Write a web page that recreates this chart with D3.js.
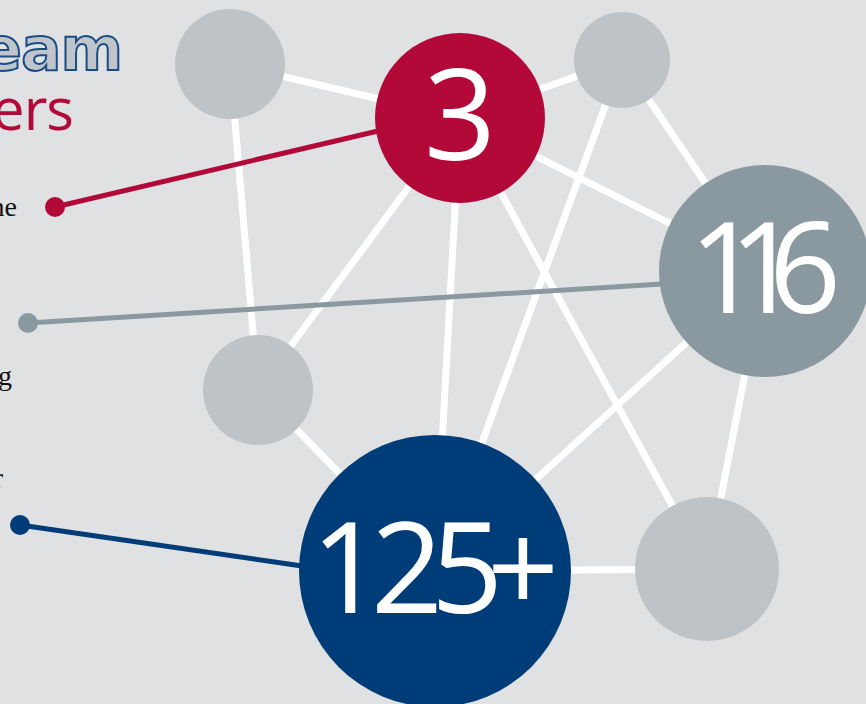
<!DOCTYPE html>
<html>
<head>
<meta charset="utf-8">
<script src="https://cdn.jsdelivr.net/npm/d3@7"></script>
<style>
  html, body { margin: 0; padding: 0; background: #e0e1e3; overflow: hidden; }
  svg { display: block; }
</style>
</head>
<body>
<svg id="chart" width="866" height="704"></svg>
<script>
// node data (layout coordinates of the original graphic)
const nodeIds = ['a', 'b', 'c', 'd', 'e', 'f', 'g'];
const nodeLabels = ['', '3', '', '116', '', '125+', ''];
const nodeX = [230, 460, 622, 765, 258, 435, 707];
const nodeY = [64, 118, 60, 271, 390, 571, 569];
const nodeR = [55, 85, 48, 106, 55, 136, 72];
const nodeKind = ['plain', 'red', 'plain', 'slate', 'plain', 'navy', 'plain'];

// network links
const linkSource = ['a', 'a', 'b', 'b', 'b', 'b', 'b', 'c', 'c', 'e', 'd', 'd', 'f'];
const linkTarget = ['b', 'e', 'c', 'e', 'f', 'd', 'g', 'f', 'd', 'f', 'f', 'g', 'g'];

// callouts: dot on the left joined to a highlighted node
const calloutNode = ['b', 'd', 'f'];
const calloutX = [55, 28, 20];
const calloutY = [207, 323, 525];
const calloutEndX = [378, 662, 302];
const calloutEndY = [131, 284, 566];

// clipped text fragments at the left edge
const titleWords = ['Team', 'Members'];
const bodyLines = ['the', 'along', 'other'];

const colors = {
    plain: '#bec3c7',
    red: '#b30939',
    slate: '#8a999f',
    navy: '#003c77'
};
// tight setting of the big numbers (width of the digit run), and where the clipped body lines sit
const digitWidth = { '3': 55, '116': 152, '125+': 192 };
const plusGap = -4;
const bodyEndX = [17, 12, 3];
const bodyBaseline = [216, 385, 487];

const svg = d3.select('#chart');
const width = +svg.attr('width');
const height = +svg.attr('height');

const x = d3.scaleLinear().domain([0, 866]).range([0, width]);
const y = d3.scaleLinear().domain([0, 704]).range([0, height]);
const r = d3.scaleLinear().domain([0, 100]).range([0, 100]);

const nodes = nodeIds.map((id, i) => ({
    id: id,
    label: nodeLabels[i],
    x: nodeX[i],
    y: nodeY[i],
    r: nodeR[i],
    kind: nodeKind[i]
}));
const byId = new Map(nodes.map(n => [n.id, n]));

const links = linkSource.map((s, i) => ({ source: byId.get(s), target: byId.get(linkTarget[i]) }));

// background
svg.append('rect')
    .attr('width', width)
    .attr('height', height)
    .attr('fill', '#e0e1e3');

// title fragments (clipped by the left edge)
svg.append('text')
    .attr('x', x(122))
    .attr('y', y(70))
    .attr('text-anchor', 'end')
    .attr('font-family', 'DejaVu Sans')
    .attr('font-weight', 'bold')
    .attr('font-size', '60px')
    .attr('letter-spacing', '-1px')
    .attr('fill', '#bfc5ca')
    .attr('stroke', '#1a4c84')
    .attr('stroke-width', 2)
    .text(titleWords[0]);

svg.append('text')
    .attr('x', x(73))
    .attr('y', y(130))
    .attr('text-anchor', 'end')
    .attr('font-family', 'Open Sans')
    .attr('font-weight', 400)
    .attr('font-size', '58px')
    .attr('letter-spacing', '-1px')
    .attr('fill', '#b30939')
    .text(titleWords[1]);

svg.selectAll('text.body')
    .data(bodyLines)
    .join('text')
    .attr('class', 'body')
    .attr('x', (d, i) => x(bodyEndX[i]))
    .attr('y', (d, i) => y(bodyBaseline[i]))
    .attr('text-anchor', 'end')
    .attr('font-family', 'Liberation Serif')
    .attr('font-size', '28px')
    .attr('fill', '#111')
    .text(d => d);

// links
svg.append('g')
    .selectAll('line')
    .data(links)
    .join('line')
    .attr('x1', d => x(d.source.x))
    .attr('y1', d => y(d.source.y))
    .attr('x2', d => x(d.target.x))
    .attr('y2', d => y(d.target.y))
    .attr('stroke', '#ffffff')
    .attr('stroke-width', 7);

// callout lines and dots
const callouts = calloutNode.map((id, i) => ({
    node: byId.get(id),
    x1: calloutX[i], y1: calloutY[i],
    x2: calloutEndX[i], y2: calloutEndY[i]
}));

const cg = svg.append('g');
cg.selectAll('line')
    .data(callouts)
    .join('line')
    .attr('x1', d => x(d.x1))
    .attr('y1', d => y(d.y1))
    .attr('x2', d => x(d.x2))
    .attr('y2', d => y(d.y2))
    .attr('stroke', d => colors[d.node.kind])
    .attr('stroke-width', 5);

cg.selectAll('circle')
    .data(callouts)
    .join('circle')
    .attr('cx', d => x(d.x1))
    .attr('cy', d => y(d.y1))
    .attr('r', 10)
    .attr('fill', d => colors[d.node.kind]);

// nodes
const ng = svg.append('g')
    .selectAll('g')
    .data(nodes)
    .join('g')
    .attr('transform', d => `translate(${x(d.x)},${y(d.y)})`);

ng.append('circle')
    .attr('r', d => r(d.r))
    .attr('fill', d => colors[d.kind]);

const labels = ng.filter(d => d.label !== '')
    .append('text')
    .attr('text-anchor', 'middle')
    .attr('y', 42)
    .attr('font-family', 'Open Sans')
    .attr('font-weight', 400)
    .attr('font-size', '126px')
    .attr('fill', '#ffffff');

// digit run squeezed to width, then the "+" where there is one
labels.append('tspan')
    .attr('textLength', d => digitWidth[d.label])
    .attr('lengthAdjust', 'spacing')
    .text(d => d.label.replace('+', ''));
labels.filter(d => d.label.endsWith('+'))
    .append('tspan')
    .attr('dx', plusGap)
    .text('+');
</script>
</body>
</html>
